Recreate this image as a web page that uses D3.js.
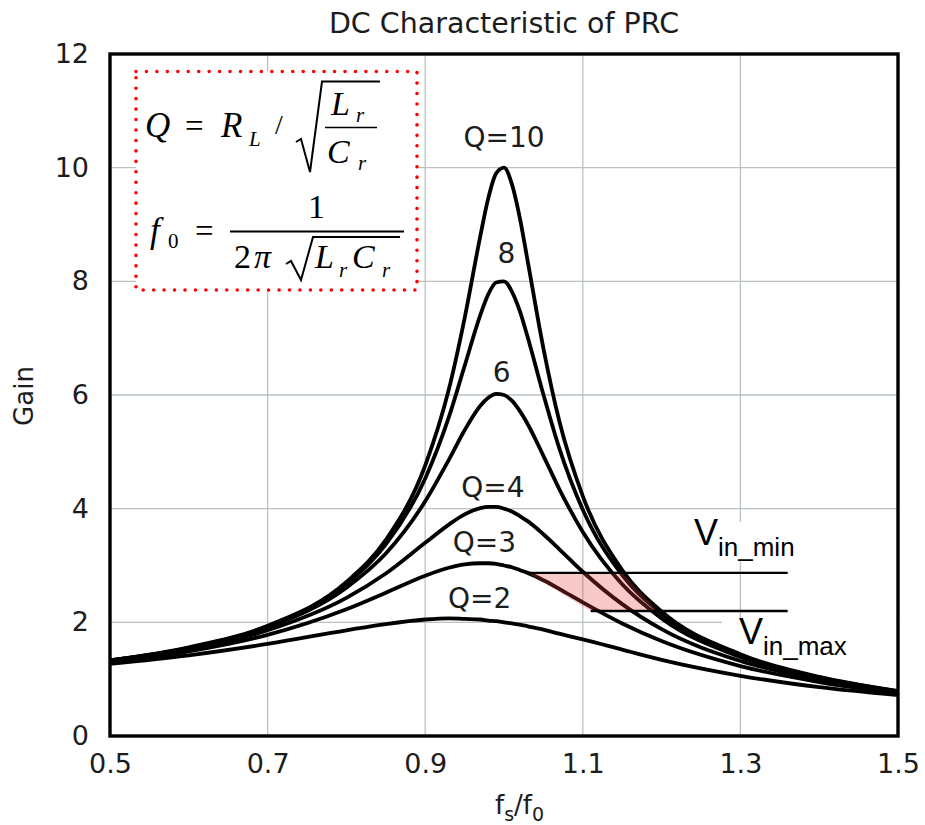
<!DOCTYPE html>
<html>
<head>
<meta charset="utf-8">
<script src="https://cdn.jsdelivr.net/npm/d3@7"></script>
<style>
  body { margin: 0; background: #fff; }
  svg { display: block; }
</style>
</head>
<body>
<div id="chart"></div>
<script>
// normalized switching frequency fs/f0
const fRatio = [0.5, 0.6, 0.7, 0.8, 0.85, 0.9, 0.93, 0.95, 0.97, 0.98, 0.99, 1.0,
                1.01, 1.02, 1.03, 1.05, 1.07, 1.1, 1.15, 1.2, 1.3, 1.4, 1.5];

// gain, one list per Q
const gainQ10 = [1.33, 1.56, 1.94, 2.71, 3.45, 4.76, 6.10, 7.35, 8.80, 9.46, 9.90, 10.00,
                 9.71, 9.12, 8.36, 6.82, 5.55, 4.22, 2.92, 2.19, 1.44, 1.04, 0.79];
const gainQ8  = [1.33, 1.55, 1.93, 2.68, 3.37, 4.53, 5.61, 6.51, 7.41, 7.77, 7.98, 8.00,
                 7.82, 7.48, 7.02, 6.01, 5.07, 3.98, 2.83, 2.15, 1.42, 1.03, 0.79];
const gainQ6  = [1.33, 1.54, 1.91, 2.61, 3.21, 4.13, 4.86, 5.38, 5.81, 5.95, 6.02, 6.00,
                 5.90, 5.72, 5.49, 4.93, 4.35, 3.59, 2.67, 2.07, 1.39, 1.02, 0.78];
const gainQ4  = [1.32, 1.52, 1.86, 2.43, 2.86, 3.40, 3.72, 3.90, 4.01, 4.03, 4.03, 4.00,
                 3.95, 3.87, 3.78, 3.55, 3.29, 2.89, 2.32, 1.88, 1.32, 0.99, 0.77];
const gainQ3  = [1.30, 1.49, 1.78, 2.23, 2.52, 2.82, 2.96, 3.02, 3.04, 3.04, 3.03, 3.00,
                 2.97, 2.92, 2.87, 2.74, 2.59, 2.35, 1.98, 1.67, 1.23, 0.95, 0.75];
const gainQ2  = [1.27, 1.42, 1.62, 1.86, 1.97, 2.05, 2.07, 2.06, 2.05, 2.03, 2.02, 2.00,
                 1.98, 1.96, 1.93, 1.87, 1.80, 1.70, 1.52, 1.34, 1.06, 0.86, 0.72];

const xTicks = [0.5, 0.7, 0.9, 1.1, 1.3, 1.5];
const yTicks = [0, 2, 4, 6, 8, 10, 12];

// input voltage range lines and the operating area between them
const vinMinGain = 2.87;
const vinMaxGain = 2.2;
const vinMinFrom = 1.03, vinMaxFrom = 1.11, vinLineTo = 1.36;
const opArea = [[1.03, 2.87], [1.15, 2.87], [1.195, 2.2], [1.11, 2.2]];

const series = [gainQ10, gainQ8, gainQ6, gainQ4, gainQ3, gainQ2];

const W = 925, H = 825;
const svg = d3.select("#chart")
    .append("svg")
    .attr("width", W)
    .attr("height", H);

const x = d3.scaleLinear().domain([0.5, 1.5]).range([110, 898]);
const y = d3.scaleLinear().domain([0, 12]).range([736, 54]);

const sans = "'DejaVu Sans', Verdana, sans-serif";
const serif = "'Liberation Serif', 'Times New Roman', serif";

// grid
svg.append("g")
    .selectAll("line")
    .data(xTicks.slice(1, -1))
    .join("line")
    .attr("x1", d => x(d)).attr("x2", d => x(d))
    .attr("y1", y(12)).attr("y2", y(0))
    .attr("stroke", "#b9c3bc")
    .attr("stroke-width", 1.3);

svg.append("g")
    .selectAll("line")
    .data(yTicks.slice(1, -1))
    .join("line")
    .attr("x1", x(0.5)).attr("x2", x(1.5))
    .attr("y1", d => y(d)).attr("y2", d => y(d))
    .attr("stroke", "#b9c3bc")
    .attr("stroke-width", 1.3);

// axes
const xAxis = svg.append("g")
    .attr("transform", "translate(0," + y(0) + ")")
    .call(d3.axisBottom(x).tickValues(xTicks).tickSize(0).tickPadding(18).tickFormat(d3.format(".1f")));
const yAxis = svg.append("g")
    .attr("transform", "translate(" + x(0.5) + ",0)")
    .call(d3.axisLeft(y).tickValues(yTicks).tickSize(0).tickPadding(21).tickFormat(d3.format("d")));
[xAxis, yAxis].forEach(g => {
    g.select(".domain").remove();
    g.selectAll("text")
        .attr("font-family", sans)
        .attr("font-size", 27)
        .attr("fill", "#1c1c1c");
});

// white patches behind the V labels
svg.append("rect").attr("x", 682).attr("y", 522).attr("width", 171).attr("height", 38).attr("fill", "#fff");
svg.append("rect").attr("x", 722).attr("y", 621).attr("width", 174).attr("height", 46).attr("fill", "#fff");

// gain curves
const line = d3.line()
    .x((d, i) => x(fRatio[i]))
    .y(d => y(d))
    .curve(d3.curveMonotoneX);

svg.append("g")
    .selectAll("path")
    .data(series)
    .join("path")
    .attr("d", line)
    .attr("fill", "none")
    .attr("stroke", "#000")
    .attr("stroke-width", 3.8)
    .attr("stroke-linejoin", "round");

// operating area
svg.append("path")
    .attr("d", "M" + opArea.map(p => x(p[0]) + "," + y(p[1])).join("L") + "Z")
    .attr("fill", "rgb(230,60,60)")
    .attr("fill-opacity", 0.28);

svg.append("line")
    .attr("x1", x(vinMinFrom)).attr("x2", x(vinLineTo))
    .attr("y1", y(vinMinGain)).attr("y2", y(vinMinGain))
    .attr("stroke", "#000").attr("stroke-width", 2.4);
svg.append("line")
    .attr("x1", x(vinMaxFrom)).attr("x2", x(vinLineTo))
    .attr("y1", y(vinMaxGain)).attr("y2", y(vinMaxGain))
    .attr("stroke", "#000").attr("stroke-width", 2.4);

// frame
svg.append("rect")
    .attr("x", x(0.5)).attr("y", y(12))
    .attr("width", x(1.5) - x(0.5)).attr("height", y(0) - y(12))
    .attr("fill", "none")
    .attr("stroke", "#000")
    .attr("stroke-width", 3.4);

// Q labels
const qLabels = [["Q=10", 1.0, 10.37], ["8", 1.003, 8.33], ["6", 0.997, 6.23],
                 ["Q=4", 0.986, 4.2], ["Q=3", 0.975, 3.23], ["Q=2", 0.969, 2.26]];
svg.append("g")
    .selectAll("text")
    .data(qLabels)
    .join("text")
    .attr("x", d => x(d[1]))
    .attr("y", d => y(d[2]))
    .attr("text-anchor", "middle")
    .attr("font-family", sans)
    .attr("font-size", 28)
    .attr("fill", "#1c1c1c")
    .text(d => d[0]);

// V labels
function vLabel(px, py, sub) {
    const t = svg.append("text")
        .attr("x", px).attr("y", py)
        .attr("font-family", "'Liberation Sans', Arial, sans-serif")
        .attr("fill", "#000");
    t.append("tspan").attr("font-size", 36).text("V");
    t.append("tspan").attr("font-size", 26).attr("dy", 11).text(sub);
}
vLabel(694, 545, "in_min");
vLabel(739, 644, "in_max");

// title and axis labels
svg.append("text")
    .attr("x", 504).attr("y", 33)
    .attr("text-anchor", "middle")
    .attr("font-family", sans)
    .attr("font-size", 28.5)
    .attr("fill", "#1c1c1c")
    .text("DC Characteristic of PRC");

svg.append("text")
    .attr("transform", "translate(33,396) rotate(-90)")
    .attr("text-anchor", "middle")
    .attr("font-family", sans)
    .attr("font-size", 26)
    .attr("fill", "#1c1c1c")
    .text("Gain");

const xl = svg.append("text")
    .attr("x", 495).attr("y", 814)
    .attr("font-family", sans)
    .attr("fill", "#1c1c1c");
xl.append("tspan").attr("font-size", 26).text("f");
xl.append("tspan").attr("font-size", 19).attr("dy", 7).text("s");
xl.append("tspan").attr("font-size", 26).attr("dy", -7).text("/f");
xl.append("tspan").attr("font-size", 19).attr("dy", 7).text("0");

// formula box
svg.append("rect")
    .attr("x", 136).attr("y", 71.5)
    .attr("width", 281).attr("height", 218.5)
    .attr("fill", "#fff")
    .attr("stroke", "#f00")
    .attr("stroke-width", 3.6)
    .attr("stroke-linecap", "round")
    .attr("stroke-dasharray", "0,10.45");

const fm = svg.append("g")
    .attr("font-family", serif)
    .attr("fill", "#000");

function term(px, py, txt, size, italic) {
    fm.append("text")
        .attr("x", px).attr("y", py)
        .attr("font-size", size)
        .attr("font-style", italic ? "italic" : "normal")
        .text(txt);
}

// Q = R_L / sqrt(Lr/Cr)
term(145, 137, "Q", 35, true);
term(185, 137, "=", 33, false);
term(221, 137, "R", 35, true);
term(249, 146, "L", 21, true);
term(275, 134, "/", 28, false);
term(331, 115, "L", 34, true);
term(356, 122, "r", 21, true);
term(327, 163, "C", 34, true);
term(358, 170, "r", 21, true);
fm.append("path")
    .attr("d", "M296,142 L301,139 L310,172 L322,81.5 L380,81.5")
    .attr("fill", "none").attr("stroke", "#000").attr("stroke-width", 2);
fm.append("line")
    .attr("x1", 325).attr("x2", 377).attr("y1", 127.5).attr("y2", 127.5)
    .attr("stroke", "#000").attr("stroke-width", 1.6);

// f0 = 1 / (2 pi sqrt(Lr Cr))
term(150, 242, "f", 35, true);
term(168, 248, "0", 21, false);
term(195, 242, "=", 33, false);
term(308, 218, "1", 34, false);
fm.append("line")
    .attr("x1", 230).attr("x2", 404).attr("y1", 231.5).attr("y2", 231.5)
    .attr("stroke", "#000").attr("stroke-width", 1.8);
term(234, 268, "2", 34, false);
term(254, 268, "\u03c0", 34, true);
fm.append("path")
    .attr("d", "M286,264 L291,261 L301,280 L313,237 L400,237")
    .attr("fill", "none").attr("stroke", "#000").attr("stroke-width", 2);
term(315, 268, "L", 34, true);
term(339, 277, "r", 21, true);
term(352, 268, "C", 34, true);
term(382, 277, "r", 21, true);
</script>
</body>
</html>
